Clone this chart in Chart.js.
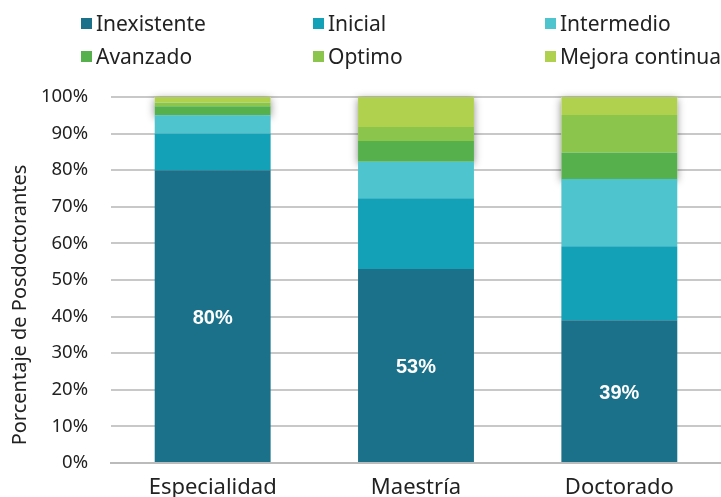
<!DOCTYPE html>
<html lang="es">
<head>
  <meta charset="UTF-8">
  <title>Porcentaje de Posdoctorantes</title>
  <script src="https://cdn.jsdelivr.net/npm/chart.js"></script>
  <style>
    body { margin: 0; background: #fff; }
    #wrap { position: relative; width: 721px; height: 497px; }
    #legend {
      position: absolute; left: 81px; top: 10px;
      display: grid; grid-template-columns: 232px 232px 180px; row-gap: 7px;
      font-family: "Noto Sans", sans-serif; font-size: 21px; color: #222;
    }
    .item { display: flex; align-items: center; height: 26px; white-space: nowrap; }
    .box { width: 11px; height: 11px; margin-right: 4px; }
  </style>
</head>
<body>
<div id="wrap">
  <canvas id="chart" width="721" height="497"></canvas>
  <div id="legend"></div>
</div>
<script>
const categories = ["Especialidad", "Maestría", "Doctorado"];
const seriesNames = ["Inexistente", "Inicial", "Intermedio", "Avanzado", "Optimo", "Mejora continua"];
const inexistente = [80, 53, 39];
const inicial = [10, 19.3, 20.2];
const intermedio = [5, 10, 18.4];
const avanzado = [2.5, 5.7, 7.2];
const optimo = [1, 3.8, 10.3];
const mejora = [1.5, 8.2, 4.9];
const yTicks = [0, 10, 20, 30, 40, 50, 60, 70, 80, 90, 100];
const yTitle = "Porcentaje de Posdoctorantes";

const colors = ["#1b718a", "#12a1b7", "#4ec4cf", "#56b04b", "#8cc54b", "#b0d14e"];
const values = [inexistente, inicial, intermedio, avanzado, optimo, mejora];

// leyenda en html (3 columnas)
const legend = document.getElementById("legend");
seriesNames.forEach((n, i) => {
  const d = document.createElement("div");
  d.className = "item";
  d.innerHTML = `<span class="box" style="background:${colors[i]}"></span>${n}`;
  legend.appendChild(d);
});

// sombra detras de los tres segmentos superiores
const shadowPlugin = {
  id: "topShadow",
  beforeDatasetsDraw(chart) {
    const ctx = chart.ctx;
    const low = chart.getDatasetMeta(3).data;
    const high = chart.getDatasetMeta(5).data;
    ctx.save();
    ctx.shadowColor = "rgba(0,0,0,0.45)";
    ctx.shadowBlur = 8;
    ctx.shadowOffsetY = 2;
    ctx.fillStyle = "#fff";
    low.forEach((b, i) => {
      const top = high[i].y;
      ctx.fillRect(b.x - b.width / 2, top, b.width, b.base - top);
    });
    ctx.restore();
  }
};

// etiquetas de porcentaje en Inexistente + titulo del eje y
const labelPlugin = {
  id: "pctLabels",
  afterDatasetsDraw(chart) {
    const ctx = chart.ctx;
    ctx.save();
    ctx.fillStyle = "#fff";
    ctx.font = "bold 20px 'Liberation Sans', Arial, sans-serif";
    ctx.textAlign = "center";
    ctx.textBaseline = "middle";
    chart.getDatasetMeta(0).data.forEach((b, i) => {
      ctx.fillText(Math.round(inexistente[i]) + "%", b.x, (b.y + b.base) / 2 + 2);
    });
    // titulo vertical, algo por debajo del centro como en el original
    const a = chart.chartArea;
    ctx.fillStyle = "#222";
    ctx.font = "20px 'Noto Sans', sans-serif";
    ctx.translate(20, (a.top + a.bottom) / 2 + 25);
    ctx.rotate(-Math.PI / 2);
    ctx.fillText(yTitle, 0, 0);
    ctx.restore();
  }
};

new Chart(document.getElementById("chart"), {
  type: "bar",
  data: {
    labels: categories,
    datasets: seriesNames.map((n, i) => ({
      label: n,
      data: values[i],
      backgroundColor: colors[i],
      borderWidth: 0,
      barPercentage: 0.57,
      categoryPercentage: 1
    }))
  },
  options: {
    responsive: false,
    animation: false,
    layout: { padding: { top: 97, left: 4, right: 0, bottom: 0 } },
    plugins: { legend: { display: false }, tooltip: { enabled: false } },
    scales: {
      x: {
        stacked: true,
        afterFit(s) { s.height = 34; },
        grid: { display: false, drawTicks: false },
        border: { color: "#bbb", width: 2 },
        ticks: { color: "#222", padding: 14, font: { family: "Noto Sans", size: 22, lineHeight: 1 } }
      },
      y: {
        stacked: true,
        min: 0,
        max: 100,
        afterFit(s) { s.width = 107; },
        afterBuildTicks(axis) { axis.ticks = yTicks.map(v => ({ value: v })); },
        grid: { color: "#c8c8c8", lineWidth: 2, drawTicks: false },
        border: { display: false },
        ticks: {
          color: "#222", padding: 23,
          font: { family: "Noto Sans", size: 18.5 },
          callback: v => v + "%"
        }
      }
    }
  },
  plugins: [shadowPlugin, labelPlugin]
});
</script>
</body>
</html>
